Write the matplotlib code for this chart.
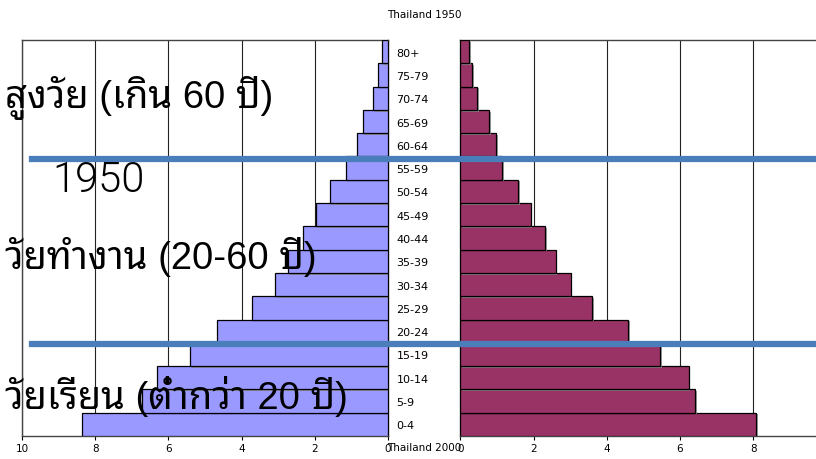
import matplotlib
matplotlib.use("Agg")
import matplotlib.pyplot as plt
from matplotlib.lines import Line2D
import matplotlib.patheffects as pe

# ---------------- data ----------------
age_groups = ["0-4", "5-9", "10-14", "15-19", "20-24", "25-29", "30-34", "35-39",
              "40-44", "45-49", "50-54", "55-59", "60-64", "65-69", "70-74", "75-79", "80+"]
male_1950 = [8.35, 6.73, 6.30, 5.41, 4.68, 3.72, 3.09, 2.72, 2.33, 1.97, 1.58, 1.15,
             0.84, 0.67, 0.40, 0.27, 0.17]
female_1950 = [8.08, 6.42, 6.24, 5.46, 4.58, 3.61, 3.02, 2.61, 2.32, 1.92, 1.58, 1.15,
               0.98, 0.79, 0.46, 0.33, 0.25]
left_ticks = [10, 8, 6, 4, 2, 0]
right_ticks = [0, 2, 4, 6, 8, 10]
title_top = "Thailand 1950"
title_bottom = "Thailand 2000"
label_old = "สูงวัย (เกิน 60 ปี)"
label_work = "วัยทำงาน (20-60 ปี)"
label_school = "วัยเรียน (ต่ำกว่า 20 ปี)"
label_year = "1950"

thai_family = ["Liberation Sans", "Noto Sans Thai Looped", "Noto Sans Thai", "DejaVu Sans"]

W, H = 816, 460
fig = plt.figure(figsize=(W / 100, H / 100), dpi=100)

def fx(px):
    return px / W

def fy(py):
    return 1 - py / H

top_px, bot_px = 41, 437
ax_l = fig.add_axes([fx(22), fy(bot_px), fx(366), (bot_px - top_px) / H])
ax_r = fig.add_axes([fx(460.3), fy(bot_px), fx(366), (bot_px - top_px) / H])

y = list(range(len(age_groups)))
shadow = [pe.SimplePatchShadow(offset=(1.2, -1.2), shadow_rgbFace="#888888", alpha=0.8), pe.Normal()]

bl = ax_l.barh(y, male_1950, height=1.0, color="#9999FF", edgecolor="black", linewidth=0.9, zorder=3)
br = ax_r.barh(y, female_1950, height=1.0, color="#993366", edgecolor="black", linewidth=0.9, zorder=3)
for b in list(bl) + list(br):
    b.set_path_effects(shadow)

for ax, ticks in ((ax_l, left_ticks), (ax_r, right_ticks)):
    ax.set_ylim(-0.5, len(age_groups) - 0.5)
    ax.set_xticks(ticks)
    ax.set_xticklabels([str(t) for t in ticks], fontsize=7.5)
    ax.tick_params(axis="x", direction="out", length=3, width=0.8, pad=2)
    ax.grid(axis="x", color="#222222", linewidth=0.8, zorder=0)
    ax.set_axisbelow(True)
    for s in ax.spines.values():
        s.set_color("#444444")
        s.set_linewidth(1.0)

ax_l.set_xlim(10, 0)
ax_r.set_xlim(0, 10)
ax_l.set_yticks([])
ax_l.spines["right"].set_color("black")
ax_r.spines["right"].set_visible(False)
ax_r.set_yticks(y)
ax_r.set_yticklabels(age_groups, fontsize=8, ha="left")
ax_r.tick_params(axis="y", length=0, pad=46)

fig.text(fx(424), fy(15), title_top, ha="center", va="center", fontsize=7.5)
fig.text(fx(424), fy(448), title_bottom, ha="center", va="center", fontsize=7.5)

# blue separator lines
for py in (160, 345):
    fig.add_artist(Line2D([fx(32), 1.0], [fy(py), fy(py)], color="#4A7EBB", linewidth=4.5,
                          transform=fig.transFigure, zorder=10))

fig.text(fx(5), fy(98), label_old, ha="left", va="center", fontsize=27.5, family=thai_family, zorder=11)
fig.text(fx(52), fy(181), label_year, ha="left", va="center", fontsize=30, fontweight=300,
         family=["Roboto", "Liberation Sans"], color="black", zorder=11)
fig.text(fx(5), fy(257), label_work, ha="left", va="center", fontsize=27.5, family=thai_family, zorder=11)
fig.text(fx(5), fy(397), label_school, ha="left", va="center", fontsize=27.5, family=thai_family, zorder=11)

fig.savefig("out.png", dpi=100)
